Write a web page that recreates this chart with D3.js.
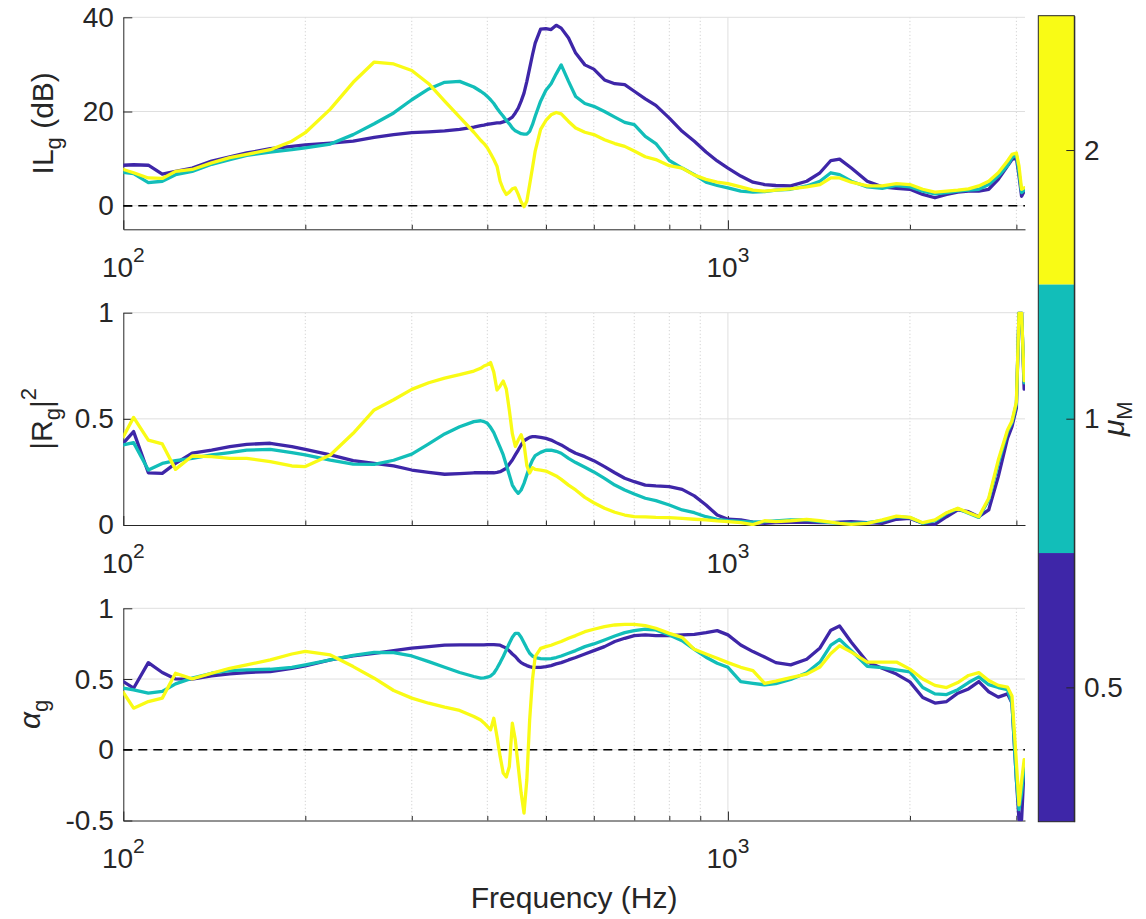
<!DOCTYPE html>
<html><head><meta charset="utf-8">
<script src="https://cdn.jsdelivr.net/npm/d3@7"></script>
<style>
body{margin:0;background:#fff}
svg text{font-family:"Liberation Sans",Arial,Helvetica,sans-serif;fill:#262626}
</style>
</head><body>
<svg id="chart" width="1146" height="919"></svg>
<script>
// ---------- data ----------
const freq = [100,104,110,116,122,130,140,150,160,175,
190,200,220,240,260,280,300,320,340,360,
380,390,395,400,405,410,415,420,425,430,
435,440,445,450,455,460,465,470,475,480,
490,500,510,520,530,545,560,580,600,625,
650,675,700,730,760,800,840,880,920,960,
1000,1050,1100,1150,1200,1270,1350,1420,1480,1530,
1600,1700,1800,1900,2000,2100,2200,2300,2400,2500,
2600,2700,2800,2900,2950,3000,3030,3060,3090];

const muValues = [0.5, 1, 2];
const seriesColors = ["#3E26A8", "#12BEB9", "#F9FB15"];

// Insertion loss IL_g (dB)
const ilMu05 = [8.6,8.7,8.6,6.7,7.3,8.0,9.5,10.4,11.2,12.1,
12.6,12.9,13.3,13.7,14.5,15.1,15.5,15.7,15.9,16.2,
16.7,17.0,17.1,17.3,17.4,17.5,17.6,17.6,17.8,18.0,
18.4,18.8,19.7,20.7,22.2,23.9,26.4,29.2,32.0,34.5,
37.5,37.6,37.4,38.3,37.7,35.6,32.4,29.9,29.0,26.7,
25.9,25.7,24.3,22.7,21.3,18.6,15.8,13.7,11.4,9.5,
8.0,6.3,5.0,4.5,4.3,4.2,5.2,7.0,9.6,9.9,
8.0,5.2,4.0,3.7,3.5,2.4,1.7,2.4,2.9,3.1,
3.1,3.5,5.6,8.4,9.8,10.2,6.3,2.0,3.1];
const ilMu1 = [7.1,6.8,4.9,5.2,6.6,7.3,8.8,9.8,10.7,11.4,
11.9,12.3,13.1,15.1,17.4,19.7,22.5,24.8,26.2,26.4,
25.2,24.3,23.8,23.2,22.5,21.7,20.7,19.8,19.0,18.1,
17.4,16.5,15.9,15.6,15.3,15.2,15.2,15.8,17.2,19.0,
22.2,24.5,25.9,28.0,29.9,26.4,23.2,21.7,21.1,20.0,
18.8,17.7,17.2,14.7,13.2,9.6,8.0,6.6,5.0,4.3,
3.8,3.1,2.9,3.0,3.3,3.5,4.2,5.2,7.0,6.6,
5.2,4.0,3.7,4.3,4.0,3.1,2.5,2.8,3.1,3.3,
3.5,4.5,6.3,8.5,10.2,10.8,7.0,2.8,3.3];
const ilMu2 = [7.7,7.0,5.9,5.8,7.3,7.7,9.1,10.2,10.9,11.9,
13.7,15.5,20.5,26.2,30.5,30.1,28.7,25.9,22.2,18.8,
15.6,13.9,13.2,12.3,11.1,9.8,8.4,5.2,3.5,2.4,
2.9,3.6,3.8,2.4,0.8,-0.2,1.0,4.5,8.0,11.6,
16.2,18.1,19.3,19.8,19.5,17.9,16.5,15.6,15.1,14.0,
13.2,12.6,11.6,10.4,9.8,8.5,8.0,6.5,5.6,5.0,
4.7,4.0,3.3,3.1,3.3,3.6,4.0,4.5,5.9,5.9,
5.0,4.2,4.2,4.7,4.5,3.5,2.9,3.1,3.3,3.6,
4.2,5.2,7.0,9.5,10.9,11.2,8.4,3.5,3.8];

// Reflection |R_g|^2
const rMu05 = [0.385,0.44,0.246,0.243,0.29,0.338,0.353,0.369,0.38,0.385,
0.369,0.356,0.33,0.303,0.29,0.278,0.259,0.248,0.239,0.242,
0.246,0.246,0.246,0.246,0.246,0.246,0.248,0.251,0.259,0.267,
0.287,0.306,0.33,0.353,0.377,0.397,0.405,0.413,0.416,0.416,
0.413,0.408,0.40,0.388,0.377,0.356,0.338,0.322,0.303,0.275,
0.246,0.22,0.204,0.188,0.184,0.181,0.168,0.137,0.094,0.047,
0.027,0.024,0.013,0.008,0.011,0.013,0.013,0.011,0.011,0.013,
0.016,0.011,0.008,0.027,0.031,0.008,0.003,0.039,0.071,0.063,
0.039,0.071,0.228,0.408,0.463,0.55,1.0,1.0,0.64];
const rMu1 = [0.377,0.388,0.259,0.29,0.303,0.314,0.33,0.341,0.353,0.356,
0.341,0.33,0.306,0.287,0.286,0.305,0.334,0.382,0.429,0.463,
0.487,0.491,0.487,0.479,0.46,0.435,0.40,0.366,0.33,0.283,
0.236,0.188,0.165,0.149,0.165,0.196,0.236,0.275,0.306,0.327,
0.342,0.352,0.353,0.347,0.338,0.314,0.294,0.272,0.25,0.22,
0.188,0.165,0.146,0.126,0.115,0.094,0.071,0.058,0.039,0.027,
0.02,0.017,0.013,0.016,0.019,0.024,0.024,0.016,0.011,0.008,
0.008,0.011,0.02,0.039,0.035,0.008,0.02,0.055,0.077,0.055,
0.036,0.118,0.29,0.44,0.483,0.57,1.0,1.0,0.67];
const rMu2 = [0.416,0.507,0.40,0.382,0.262,0.325,0.322,0.314,0.314,0.298,
0.278,0.275,0.33,0.432,0.542,0.59,0.639,0.67,0.692,0.708,
0.725,0.738,0.749,0.755,0.765,0.72,0.636,0.655,0.678,0.64,
0.54,0.43,0.37,0.40,0.425,0.38,0.28,0.245,0.27,0.262,
0.259,0.254,0.243,0.231,0.215,0.188,0.165,0.13,0.105,0.079,
0.06,0.047,0.039,0.038,0.036,0.035,0.031,0.027,0.024,0.019,
0.016,0.011,0.002,0.02,0.016,0.02,0.027,0.02,0.013,0.008,
0.003,0.008,0.024,0.042,0.036,0.011,0.024,0.058,0.079,0.058,
0.039,0.126,0.306,0.447,0.49,0.58,1.0,1.0,0.68];

// Absorption alpha_g
const aMu05 = [0.482,0.435,0.616,0.546,0.501,0.499,0.522,0.536,0.546,0.553,
0.576,0.593,0.635,0.663,0.682,0.701,0.718,0.729,0.739,0.741,
0.741,0.741,0.741,0.743,0.743,0.743,0.741,0.739,0.729,0.718,
0.699,0.677,0.659,0.635,0.616,0.605,0.595,0.588,0.583,0.583,
0.583,0.588,0.595,0.607,0.616,0.635,0.652,0.677,0.701,0.729,
0.765,0.788,0.807,0.812,0.807,0.807,0.812,0.816,0.828,0.842,
0.812,0.741,0.694,0.655,0.616,0.60,0.64,0.72,0.845,0.875,
0.76,0.62,0.576,0.535,0.48,0.37,0.33,0.341,0.40,0.43,
0.482,0.41,0.372,0.395,0.33,-0.212,-0.494,-0.494,-0.118];
const aMu1 = [0.435,0.423,0.40,0.412,0.466,0.506,0.541,0.56,0.565,0.569,
0.583,0.60,0.635,0.668,0.689,0.687,0.663,0.623,0.583,0.546,
0.518,0.506,0.508,0.513,0.522,0.541,0.576,0.616,0.659,0.706,
0.753,0.795,0.823,0.823,0.795,0.757,0.717,0.682,0.663,0.652,
0.645,0.642,0.645,0.652,0.663,0.682,0.701,0.729,0.748,0.776,
0.804,0.828,0.842,0.852,0.847,0.812,0.771,0.71,0.654,0.612,
0.583,0.482,0.47,0.459,0.468,0.497,0.545,0.62,0.74,0.78,
0.70,0.59,0.58,0.565,0.55,0.44,0.395,0.39,0.425,0.475,
0.515,0.46,0.44,0.425,0.33,-0.212,-0.423,-0.306,-0.118];
const aMu2 = [0.405,0.294,0.341,0.365,0.541,0.501,0.541,0.576,0.60,0.635,
0.677,0.696,0.67,0.588,0.506,0.419,0.365,0.329,0.301,0.278,
0.235,0.21,0.19,0.165,0.141,0.223,0.094,-0.047,-0.165,-0.193,
-0.118,0.188,0.07,-0.118,-0.306,-0.447,-0.212,0.212,0.494,0.659,
0.717,0.729,0.739,0.753,0.765,0.788,0.807,0.835,0.852,0.87,
0.882,0.887,0.887,0.878,0.859,0.823,0.795,0.71,0.677,0.647,
0.616,0.583,0.56,0.47,0.485,0.51,0.535,0.585,0.68,0.735,
0.69,0.62,0.62,0.62,0.57,0.50,0.455,0.44,0.475,0.525,
0.545,0.49,0.455,0.443,0.38,-0.09,-0.39,-0.22,-0.07];

const xMajorTicks = [100, 1000];
const xMinorTicks = [200,300,400,500,600,700,800,900,2000,3000];
const ilTicks = [0, 20, 40];
const rTicks = [0, 0.5, 1];
const aTicks = [-0.5, 0, 0.5, 1];
const cbEdges = [Math.SQRT1_2 / 2, Math.SQRT1_2, Math.SQRT2, 2 * Math.SQRT2];
const cbTicks = [0.5, 1, 2];

// ---------- layout ----------
const svg = d3.select("#chart");
const L = 123.3, R = 1025;
const TICK_FONT = 28, LABEL_FONT = 30, SUB_FONT = 21;
const x = d3.scaleLog().domain([100, 3100]).range([L, R]);

const panels = [
  {series:[ilMu05, ilMu1, ilMu2], domain:[-5,40], top:17.3, bottom:229.3, ticks:ilTicks, zero:true, label:"il", lx:53},
  {series:[rMu05, rMu1, rMu2], domain:[0,1], top:312.7, bottom:525, ticks:rTicks, zero:false, label:"r", lx:52},
  {series:[aMu05, aMu1, aMu2], domain:[-0.5,1], top:608.3, bottom:820.5, ticks:aTicks, zero:true, label:"a", lx:40}
];

panels.forEach((p, pi) => {
  const y = d3.scaleLinear().domain(p.domain).range([p.bottom, p.top]);
  const g = svg.append("g");

  // grid
  g.append("g").selectAll("line").data(xMinorTicks).join("line")
    .attr("x1", d => x(d)).attr("x2", d => x(d))
    .attr("y1", p.top).attr("y2", p.bottom)
    .attr("stroke", "#c9c9c9").attr("stroke-width", 1).attr("stroke-dasharray", "1,2.5");
  g.append("g").selectAll("line").data(xMajorTicks.slice(1)).join("line")
    .attr("x1", d => x(d)).attr("x2", d => x(d))
    .attr("y1", p.top).attr("y2", p.bottom)
    .attr("stroke", "#dfdfdf").attr("stroke-width", 1);
  g.append("g").selectAll("line").data(p.ticks.filter(t => t !== p.domain[0])).join("line")
    .attr("x1", L).attr("x2", R)
    .attr("y1", d => y(d)).attr("y2", d => y(d))
    .attr("stroke", "#dfdfdf").attr("stroke-width", 1);

  // y axis
  const yAxis = d3.axisLeft(y).tickValues(p.ticks).tickSizeInner(-9).tickSizeOuter(0)
    .tickPadding(9.5).tickFormat(d => String(d));
  const ya = g.append("g").attr("transform", `translate(${L},0)`).call(yAxis);
  ya.select(".domain").attr("stroke", "#262626");
  ya.selectAll(".tick line").attr("stroke", "#262626");
  ya.selectAll(".tick text").attr("font-size", TICK_FONT).attr("fill", "#262626")
    .attr("font-family", '"Liberation Sans",Arial,Helvetica,sans-serif');

  // x axis (minor + major ticks, inward)
  const xMinAxis = d3.axisBottom(x).tickValues(xMinorTicks).tickSizeInner(-4.5).tickSizeOuter(0).tickFormat("");
  const xm = g.append("g").attr("transform", `translate(0,${p.bottom})`).call(xMinAxis);
  xm.select(".domain").attr("stroke", "#262626");
  xm.selectAll(".tick line").attr("stroke", "#262626");
  const xMajAxis = d3.axisBottom(x).tickValues(xMajorTicks).tickSizeInner(-9).tickSizeOuter(0).tickFormat("");
  const xM = g.append("g").attr("transform", `translate(0,${p.bottom})`).call(xMajAxis);
  xM.select(".domain").remove();
  xM.selectAll(".tick line").attr("stroke", "#262626");
  // decade labels 10^n
  const lab = g.append("g").selectAll("text").data(xMajorTicks).join("text")
    .attr("x", d => x(d)).attr("y", p.bottom + 47.5)
    .attr("text-anchor", "middle").attr("font-size", TICK_FONT);
  lab.append("tspan").text("10");
  lab.append("tspan").attr("font-size", SUB_FONT).attr("dy", -15).text(d => String(Math.round(Math.log10(d))));

  // zero dashed line
  if (p.zero) {
    g.append("line").attr("x1", L).attr("x2", R).attr("y1", y(0)).attr("y2", y(0))
      .attr("stroke", "#000").attr("stroke-width", 1.3).attr("stroke-dasharray", "9,6");
  }

  // clip + lines
  const cid = "clip" + pi;
  svg.append("clipPath").attr("id", cid).append("rect")
    .attr("x", L).attr("y", p.top - 1).attr("width", R - L).attr("height", p.bottom - p.top + 2);
  const line = d3.line().x((d, i) => x(freq[i])).y(d => y(d));
  g.append("g").attr("clip-path", `url(#${cid})`).selectAll("path").data(p.series).join("path")
    .attr("d", d => line(d))
    .attr("fill", "none")
    .attr("stroke", (d, i) => seriesColors[i])
    .attr("stroke-width", 3.3)
    .attr("stroke-linejoin", "round").attr("stroke-linecap", "round");

  // y label
  const cy = (p.top + p.bottom) / 2;
  const t = svg.append("text").attr("transform", `translate(${p.lx},${cy}) rotate(-90)`)
    .attr("text-anchor", "middle").attr("font-size", LABEL_FONT);
  if (p.label === "il") {
    t.append("tspan").text("IL");
    t.append("tspan").attr("font-size", 22).attr("dy", 8).text("g");
    t.append("tspan").attr("dy", -8).text(" (dB)");
  } else if (p.label === "r") {
    t.append("tspan").text("|R");
    t.append("tspan").attr("font-size", 22).attr("dy", 8).text("g");
    t.append("tspan").attr("dy", -8).text("|");
    t.append("tspan").attr("font-size", 22).attr("dy", -16).text("2");
  } else {
    t.append("tspan").attr("font-style", "italic").text("α");
    t.append("tspan").attr("font-size", 22).attr("dy", 8).text("g");
  }
});

// x label
svg.append("text").attr("x", (L + R) / 2).attr("y", 908).attr("text-anchor", "middle")
  .attr("font-size", LABEL_FONT).text("Frequency (Hz)");

// ---------- colorbar ----------
const cbL = 1038.3, cbR = 1074.3, cbTop = 15.7, cbBot = 821.7;
const cb = d3.scaleLog().domain([cbEdges[0], cbEdges[3]]).range([cbBot, cbTop]);
const bands = muValues.map((m, i) => ({lo: cbEdges[i], hi: cbEdges[i + 1], c: seriesColors[i]}));
svg.append("g").selectAll("rect").data(bands).join("rect")
  .attr("x", cbL).attr("width", cbR - cbL)
  .attr("y", d => cb(d.hi)).attr("height", d => cb(d.lo) - cb(d.hi))
  .attr("fill", d => d.c);
svg.append("rect").attr("x", cbL).attr("y", cbTop).attr("width", cbR - cbL).attr("height", cbBot - cbTop)
  .attr("fill", "none").attr("stroke", "#262626").attr("stroke-width", 1);
const cbAxis = d3.axisRight(cb).tickValues(cbTicks).tickSizeInner(-8).tickSizeOuter(0)
  .tickPadding(9.7).tickFormat(d => String(d));
const cba = svg.append("g").attr("transform", `translate(${cbR},0)`).call(cbAxis);
cba.select(".domain").attr("stroke", "#262626");
cba.selectAll(".tick line").attr("stroke", "#262626");
cba.selectAll(".tick text").attr("font-size", TICK_FONT).attr("fill", "#262626")
  .attr("font-family", '"Liberation Sans",Arial,Helvetica,sans-serif');

const cbl = svg.append("text").attr("transform", `translate(1124,${(cbTop + cbBot) / 2}) rotate(-90)`)
  .attr("text-anchor", "middle").attr("font-size", LABEL_FONT);
cbl.append("tspan").attr("font-style", "italic").text("μ");
cbl.append("tspan").attr("font-size", 22).attr("dy", 8).text("M");
</script>
</body></html>
